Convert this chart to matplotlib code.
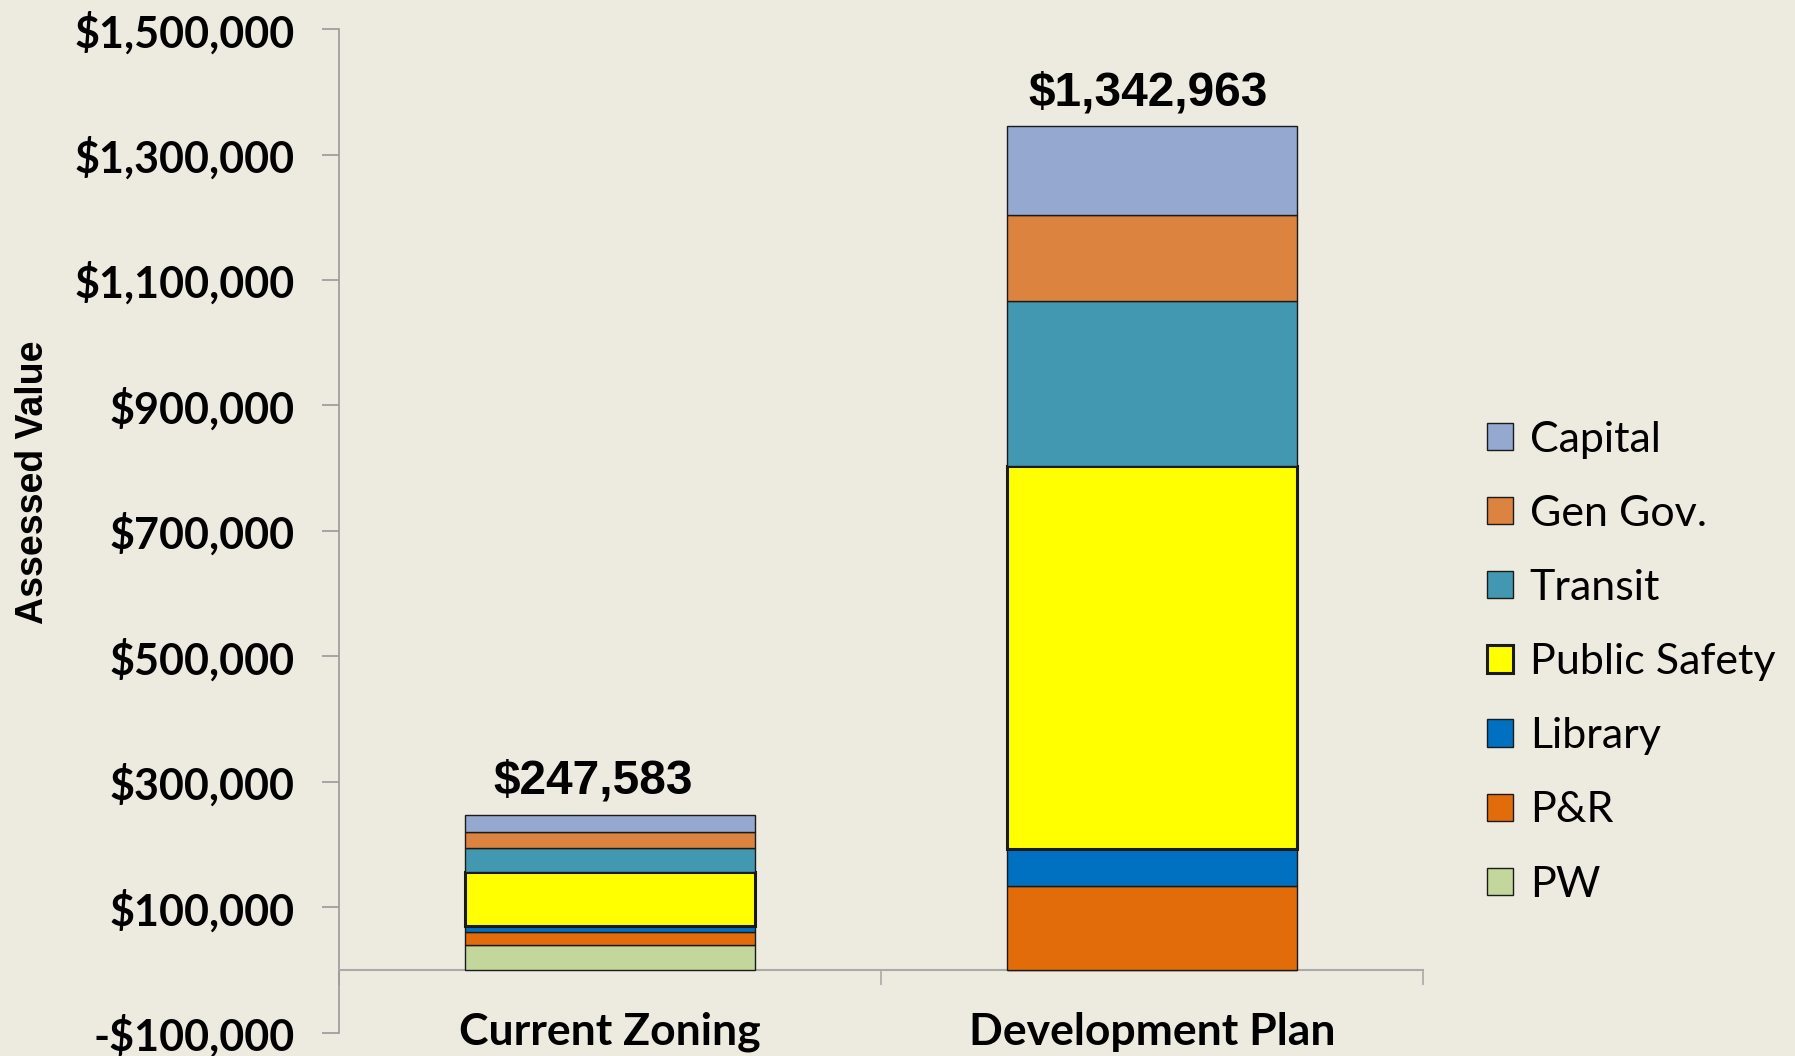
import matplotlib.pyplot as plt
import numpy as np

categories = ['Current Zoning', 'Development Plan']
series = ['PW', 'P&R', 'Library', 'Public Safety', 'Transit', 'Gen Gov.', 'Capital']
pw = [40700, 0]
pr = [20200, 134300]
library = [8500, 57900]
public_safety = [86100, 611800]
transit = [39800, 263000]
gen_gov = [24400, 136000]
capital = [27883, 141963]
totals = ['$247,583', '$1,342,963']

colors = ['#C3D69B', '#E36C0A', '#0070C0', '#FFFF00', '#4298B0', '#DD8340', '#95A9D0']
values = [pw, pr, library, public_safety, transit, gen_gov, capital]

bg = '#EDEBE0'
fig = plt.figure(figsize=(17.95, 10.56), dpi=100, facecolor=bg)
ax = fig.add_axes([0.189, 0.022, 0.604, 0.9505], facecolor=bg)

x = np.arange(len(categories))
bottom = np.zeros(len(categories))
bars = []
for name, vals, c in zip(series, values, colors):
    lw = 2.2 if name == 'Public Safety' else 1.0
    b = ax.bar(x, vals, width=0.535, bottom=bottom, color=c, edgecolor='#1a1a1a',
               linewidth=lw, label=name, zorder=3)
    bars.append(b)
    bottom += np.array(vals)

# total labels above the stacks
for xi, tot, lab, dx in zip(x, bottom, totals, [-12, -3]):
    ax.annotate(lab, (xi, tot), xytext=(dx, 8), textcoords='offset points',
                ha='center', va='bottom', fontsize=34.5, fontweight='bold',
                family='Liberation Sans')

ax.set_xlim(-0.5, 1.5)
ax.set_ylim(-100000, 1500000)
ax.set_yticks(np.arange(-100000, 1500001, 200000))
ax.set_yticklabels([('-$' if v < 0 else '$') + f'{abs(v):,}' for v in range(-100000, 1500001, 200000)],
                   fontsize=31, fontweight='bold', family='Lato')
ax.tick_params(axis='y', direction='out', length=12, color='#999999', width=1.2, pad=20)

ax.spines['bottom'].set_position(('data', 0))
ax.spines['bottom'].set_color('#aaaaaa')
ax.spines['bottom'].set_linewidth(1.5)
ax.spines['left'].set_color('#999999')
ax.spines['left'].set_linewidth(1.2)
ax.spines['top'].set_visible(False)
ax.spines['right'].set_visible(False)

ax.set_xticks(x)
ax.set_xticklabels(categories, fontsize=32, fontweight='bold', family='Lato')
ax.tick_params(axis='x', which='major', length=0, pad=30)
ax.set_xticks([-0.5, 0.5, 1.5], minor=True)
ax.tick_params(axis='x', which='minor', direction='out', length=11, color='#aaaaaa', width=1.2)

ax.set_ylabel('Assessed Value', fontsize=27, fontweight='bold', family='Liberation Sans')
ax.yaxis.set_label_coords(-0.266, 0.548)

handles = [b.patches[0] for b in bars][::-1]
labels = series[::-1]
leg = fig.legend(handles, labels, loc='center left', bbox_to_anchor=(0.8067, 0.373),
                 frameon=False, prop={'family': 'Lato', 'size': 31},
                 handlelength=0.6, handleheight=0.6, handletextpad=0.4, labelspacing=0.84)

fig.savefig('out.png', dpi=100, facecolor=bg)
